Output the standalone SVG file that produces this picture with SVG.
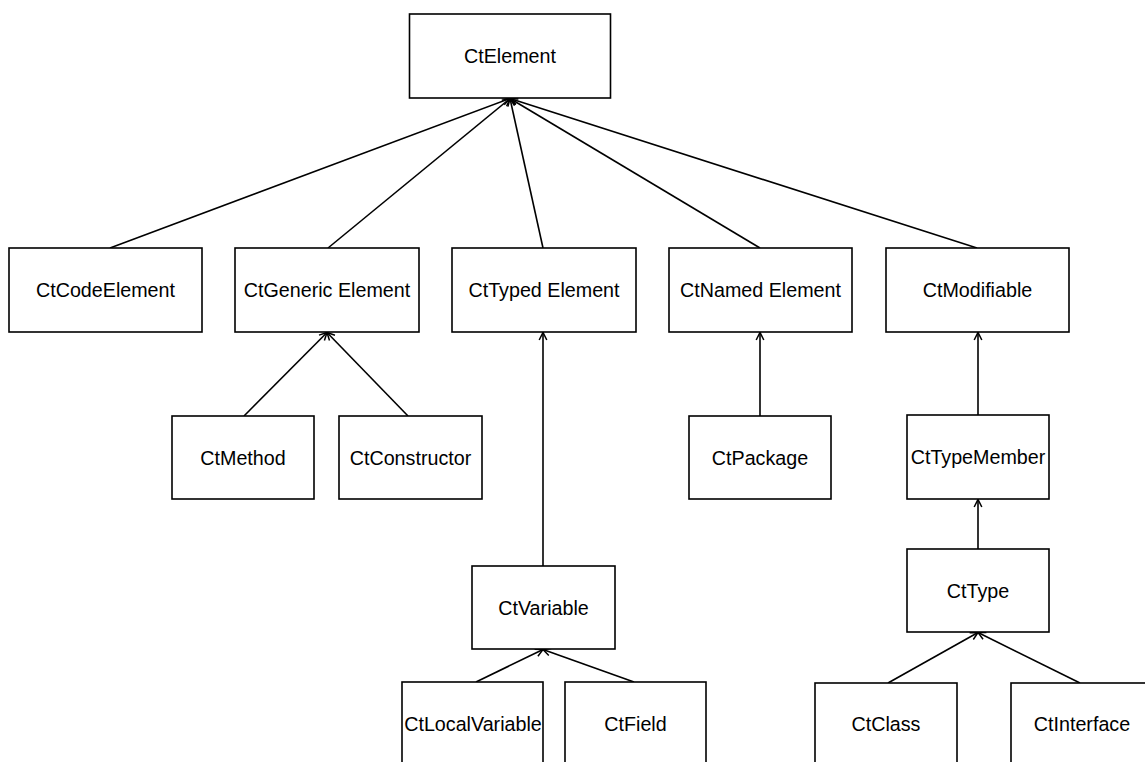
<svg xmlns="http://www.w3.org/2000/svg" width="1145" height="762" viewBox="0 0 1145 762">
<style>
.box{fill:#ffffff;stroke:#000000;stroke-width:1.6}
.lbl{font-family:"Liberation Sans",Arial,sans-serif;font-size:19.7px;fill:#000000;text-anchor:middle}
.edge{stroke:#000000;stroke-width:1.6;fill:none;marker-end:url(#open)}
</style>
<defs>
<marker id="open" markerUnits="userSpaceOnUse" markerWidth="14" markerHeight="14" viewBox="-10 -7 12 14" refX="0" refY="0" orient="auto">
<path d="M-7.5,-3.8 L0,0 L-7.5,3.8" fill="none" stroke="#000000" stroke-width="1.5"/>
</marker>
</defs>
<rect width="1145" height="762" fill="#ffffff"/>
<g id="connectors">
<line class="edge" x1="110" y1="248" x2="510" y2="98.5"/>
<line class="edge" x1="328" y1="248" x2="510" y2="98.5"/>
<line class="edge" x1="543" y1="248" x2="510" y2="98.5"/>
<line class="edge" x1="760" y1="248" x2="510" y2="98.5"/>
<line class="edge" x1="977" y1="248" x2="510" y2="98.5"/>
<line class="edge" x1="244" y1="416" x2="327" y2="332.5"/>
<line class="edge" x1="408" y1="416" x2="327" y2="332.5"/>
<line class="edge" x1="543" y1="566" x2="543" y2="332.5"/>
<line class="edge" x1="760" y1="416" x2="760" y2="332.5"/>
<line class="edge" x1="978" y1="415" x2="978" y2="332.5"/>
<line class="edge" x1="978" y1="549" x2="978" y2="499.5"/>
<line class="edge" x1="476" y1="682" x2="543" y2="649.5"/>
<line class="edge" x1="634" y1="682" x2="543" y2="649.5"/>
<line class="edge" x1="888" y1="683" x2="978" y2="632.5"/>
<line class="edge" x1="1080" y1="683" x2="978" y2="632.5"/>
</g>
<g id="CtElement"><rect class="box" x="409.5" y="14" width="201" height="84"/><text class="lbl" x="510" y="63">CtElement</text></g>
<g id="CtCodeElement"><rect class="box" x="9" y="248" width="193" height="84"/><text class="lbl" x="105.5" y="297">CtCodeElement</text></g>
<g id="CtGenericElement"><rect class="box" x="235" y="248" width="184" height="84"/><text class="lbl" x="327" y="297">CtGeneric Element</text></g>
<g id="CtTypedElement"><rect class="box" x="452" y="248" width="184" height="84"/><text class="lbl" x="544" y="297">CtTyped Element</text></g>
<g id="CtNamedElement"><rect class="box" x="669" y="248" width="183" height="84"/><text class="lbl" x="760.5" y="297">CtNamed Element</text></g>
<g id="CtModifiable"><rect class="box" x="886" y="248" width="183" height="84"/><text class="lbl" x="977.5" y="297">CtModifiable</text></g>
<g id="CtMethod"><rect class="box" x="172" y="416" width="142" height="83"/><text class="lbl" x="243" y="464.5">CtMethod</text></g>
<g id="CtConstructor"><rect class="box" x="339" y="416" width="143" height="83"/><text class="lbl" x="410.5" y="464.5">CtConstructor</text></g>
<g id="CtPackage"><rect class="box" x="689" y="416" width="142" height="83"/><text class="lbl" x="760" y="464.5">CtPackage</text></g>
<g id="CtTypeMember"><rect class="box" x="907" y="415" width="142" height="84"/><text class="lbl" x="978" y="464">CtTypeMember</text></g>
<g id="CtType"><rect class="box" x="907" y="549" width="142" height="83"/><text class="lbl" x="978" y="597.5">CtType</text></g>
<g id="CtVariable"><rect class="box" x="472" y="566" width="143" height="83"/><text class="lbl" x="543.5" y="614.5">CtVariable</text></g>
<g id="CtLocalVariable"><rect class="box" x="402" y="682" width="141" height="84"/><text class="lbl" x="473" y="731">CtLocalVariable</text></g>
<g id="CtField"><rect class="box" x="565" y="682" width="141" height="84"/><text class="lbl" x="635.5" y="731">CtField</text></g>
<g id="CtClass"><rect class="box" x="815" y="683" width="142" height="84"/><text class="lbl" x="886" y="731">CtClass</text></g>
<g id="CtInterface"><rect class="box" x="1011" y="683" width="142" height="84"/><text class="lbl" x="1082" y="731">CtInterface</text></g>
</svg>
